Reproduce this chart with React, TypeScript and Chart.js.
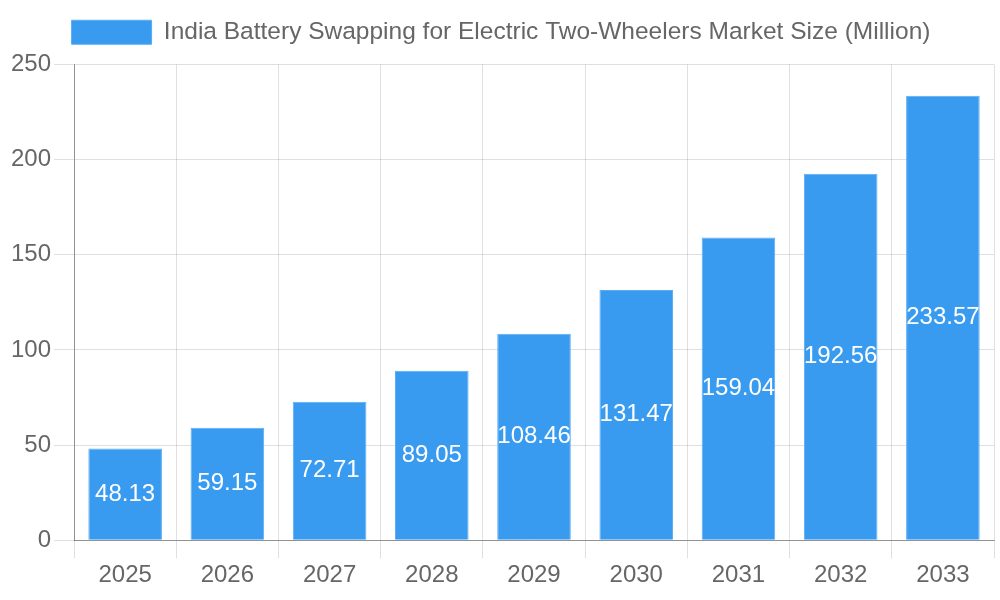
import React, { useEffect, useRef } from 'react';
import { Chart, registerables, Plugin } from 'chart.js';

Chart.register(...registerables);

const years: string[] = ['2025', '2026', '2027', '2028', '2029', '2030', '2031', '2032', '2033'];
const marketSize: number[] = [48.13, 59.15, 72.71, 89.05, 108.46, 131.47, 159.04, 192.56, 233.57];
const seriesLabel = 'India Battery Swapping for Electric Two-Wheelers Market Size (Million)';

const FONT = '"Liberation Sans", Arial, sans-serif';

// writes each value in the middle of its bar
const valueLabels: Plugin<'bar'> = {
  id: 'valueLabels',
  afterDatasetsDraw(chart) {
    const { ctx } = chart;
    const meta = chart.getDatasetMeta(0);
    ctx.save();
    ctx.fillStyle = '#ffffff';
    ctx.font = `24px ${FONT}`;
    ctx.textAlign = 'center';
    ctx.textBaseline = 'middle';
    meta.data.forEach((bar: any, i: number) => {
      const { x, y, base } = bar.getProps(['x', 'y', 'base'], true);
      ctx.fillText(marketSize[i].toFixed(2), x, (y + base) / 2);
    });
    ctx.restore();
  },
};

// a little more room under the legend
const legendGap: Plugin<'bar'> = {
  id: 'legendGap',
  beforeInit(chart: any) {
    const origFit = chart.legend.fit;
    chart.legend.fit = function fit() {
      origFit.bind(chart.legend)();
      this.height += 10;
    };
  },
};

export default function App() {
  const chartRef = useRef<HTMLCanvasElement | null>(null);

  useEffect(() => {
    if (!chartRef.current) return;
    const ctx = chartRef.current.getContext('2d');
    if (!ctx) return;

    const chart = new Chart(ctx, {
      type: 'bar',
      data: {
        labels: years,
        datasets: [
          {
            label: seriesLabel,
            data: marketSize,
            backgroundColor: '#389bf0',
            borderColor: '#5aadf3',
            borderWidth: 1,
          },
        ],
      },
      options: {
        responsive: true,
        maintainAspectRatio: false,
        animation: false,
        layout: { padding: { left: 8, right: 6, top: 10, bottom: 7 } },
        plugins: {
          legend: {
            position: 'top',
            labels: {
              color: '#666',
              boxWidth: 80,
              boxHeight: 24,
              font: { size: 24.5, family: FONT },
            },
          },
          tooltip: { enabled: false },
        },
        scales: {
          x: {
            grid: { color: 'rgba(0,0,0,0.12)', tickLength: 18 },
            border: { color: 'rgba(0,0,0,0.35)' },
            ticks: { color: '#666', font: { size: 24, family: FONT } },
          },
          y: {
            min: 0,
            max: 250,
            grid: { color: 'rgba(0,0,0,0.12)', tickLength: 20 },
            border: { color: 'rgba(0,0,0,0.35)' },
            ticks: { stepSize: 50, color: '#666', font: { size: 24, family: FONT } },
          },
        },
      },
      plugins: [valueLabels, legendGap],
    });

    return () => {
      chart.destroy();
    };
  }, []);

  return (
    <div style={{ position: 'fixed', left: 0, top: 0, width: 1000, height: 600, background: '#fff' }}>
      <canvas ref={chartRef} />
    </div>
  );
}
